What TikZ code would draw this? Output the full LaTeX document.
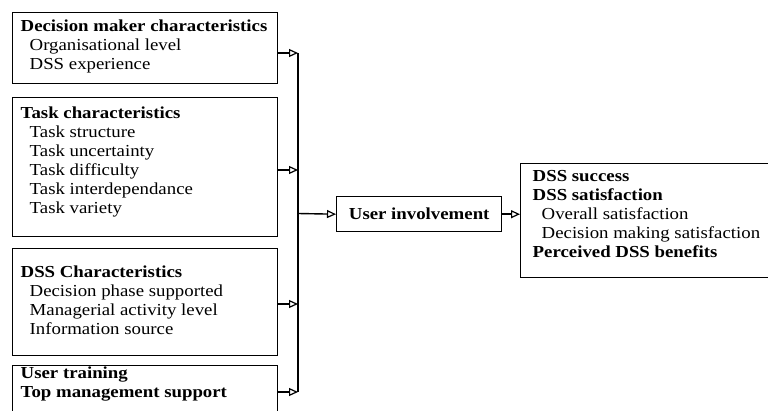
\documentclass[tikz,border=0pt]{standalone}
\usepackage{fontspec}
\setmainfont[FakeStretch=1.12]{Liberation Serif}
\usetikzlibrary{arrows.meta}

\tikzset{
  box/.style={draw, line width=1.4pt, anchor=north west, inner xsep=8pt, inner ysep=0pt},
  arr/.style={line width=1.4pt, -{Triangle[open, length=9pt, width=8pt, line width=1.2pt]}},
}
\newcommand{\ind}{\hspace*{9pt}}
% box text: height, first baseline, width, lines
\newcommand{\boxtext}[4]{\parbox[c][#1][t]{#3}{\raggedright\rule{0pt}{#2}#4}}

\begin{document}
\begin{tikzpicture}[x=1pt, y=-1pt, every node/.style={font=\fontsize{16.8}{19}\selectfont}]
  \useasboundingbox (0,0) rectangle (768,411);

  % input boxes
  \node[box] (dm) at (12,12) {\boxtext{71pt}{19pt}{249pt}{%
    \textbf{Decision maker characteristics}\\\ind Organisational level\\\ind DSS experience}};
  \node[box] (task) at (12,97) {\boxtext{139pt}{21pt}{249pt}{%
    \textbf{Task characteristics}\\\ind Task structure\\\ind Task uncertainty\\\ind Task difficulty\\
    \ind Task interdependance\\\ind Task variety}};
  \node[box] (dssc) at (12,248) {\boxtext{107pt}{29pt}{249pt}{%
    \textbf{DSS Characteristics}\\\ind Decision phase supported\\\ind Managerial activity level\\
    \ind Information source}};
  \node[box] (train) at (12,365) {\boxtext{55pt}{13pt}{249pt}{%
    \textbf{User training}\\\textbf{Top management support}}};

  % middle and outcome
  \node[box, minimum width=165, minimum height=35] (ui) at (336,196) {\textbf{User involvement}};
  \node[box, inner xsep=12pt] (succ) at (520,163) {\boxtext{114pt}{18pt}{236pt}{%
    \textbf{DSS success}\\\textbf{DSS satisfaction}\\\ind Overall satisfaction\\
    \ind Decision making satisfaction\\\textbf{Perceived DSS benefits}}};

  % bus line
  \coordinate (j1) at (298,53);
  \coordinate (j2) at (298,170);
  \coordinate (j3) at (298,304);
  \coordinate (j4) at (298,392);
  \coordinate (bus) at (298,213.5);

  \draw[arr] (j1 -| dm.east) -- (j1);
  \draw[arr] (j2 -| task.east) -- (j2);
  \draw[arr] (j3 -| dssc.east) -- (j3);
  \draw[arr] (j4 -| train.east) -- (j4);
  \draw[line width=1.4pt] (j1) -- (j4);

  \draw[arr] (bus) -- (ui.west);
  \draw[arr] (ui.east) -- (ui.east -| succ.west);
\end{tikzpicture}
\end{document}
